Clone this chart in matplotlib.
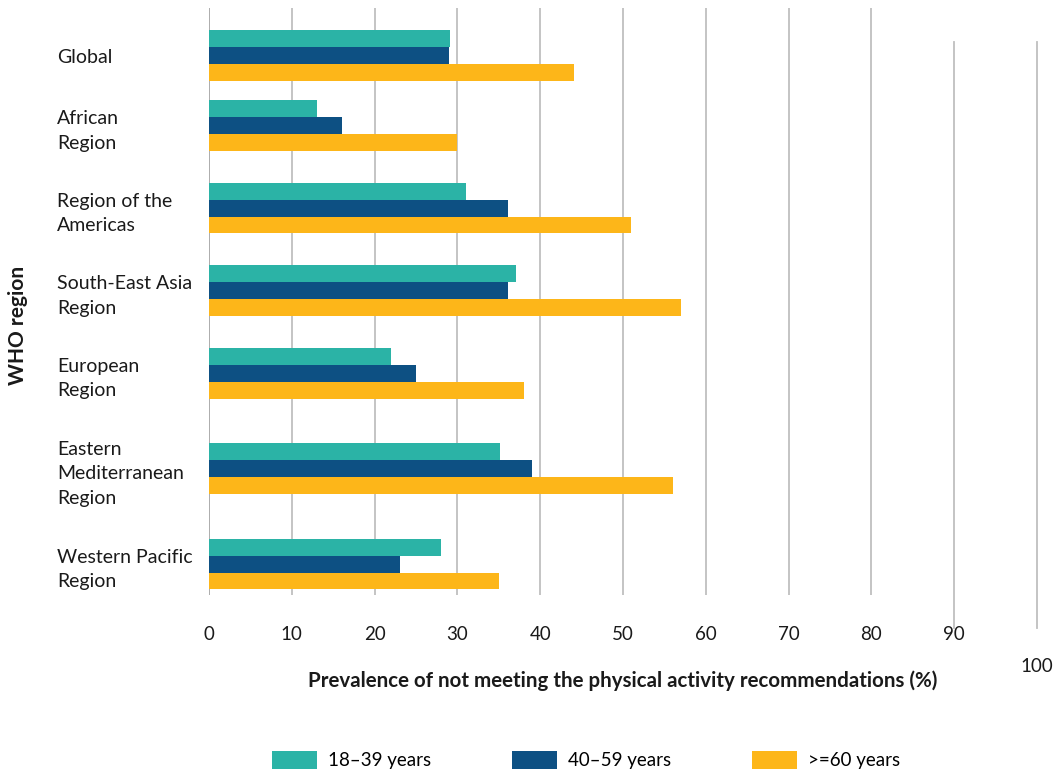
import matplotlib
matplotlib.use("Agg")
import matplotlib.pyplot as plt
import matplotlib.transforms as mtransforms
from matplotlib.patches import Patch
import numpy as np

plt.rcParams['font.family'] = ['Lato', 'DejaVu Sans']

regions = ["Global", "African\nRegion", "Region of the\nAmericas", "South-East Asia\nRegion",
           "European\nRegion", "Eastern\nMediterranean\nRegion", "Western Pacific\nRegion"]
series_names = ["18\u201339 years", "40\u201359 years", ">=60 years"]
age_18_39 = [29.1, 13.0, 31.0, 37.1, 22.0, 35.1, 28.0]
age_40_59 = [29.0, 16.1, 36.1, 36.1, 25.0, 39.0, 23.1]
age_60_plus = [44.1, 30.0, 51.0, 57.0, 38.0, 56.0, 35.0]
xticks = [0, 10, 20, 30, 40, 50, 60, 70, 80, 90, 100]

colors = ["#2BB3A6", "#0D5083", "#FDB619"]

fig = plt.figure(figsize=(10.64, 7.71), dpi=100)
ax = fig.add_axes([209/1064, 1-595/771, (1037-209)/1064, (595-8)/771])

# category positions: spacing grows with the number of label lines
nlines = [r.count("\n") + 1 for r in regions]
pos = [0.0]
for i in range(1, len(regions)):
    pos.append(pos[-1] + 1.2 + (nlines[i-1] + nlines[i]) / 2)
pos = np.array(pos)

h = 0.657
for k, (vals, c) in enumerate(zip([age_18_39, age_40_59, age_60_plus], colors)):
    ax.barh(pos + (k - 1) * h, vals, height=h, color=c, zorder=3)

ax.set_xlim(0, 100)
ax.set_ylim(pos[-1] + 1.2, -1.855)

# gridlines
for x in xticks:
    if x == 0:
        ax.axvline(x, color="#a6a6a6", lw=1.3, zorder=1)
    elif x >= 90:
        ax.axvline(x, ymin=-0.056, ymax=0.942, color="#bfbfbf", lw=1.3, zorder=1, clip_on=False)
    else:
        ax.axvline(x, color="#bfbfbf", lw=1.3, zorder=1)

for s in ax.spines.values():
    s.set_visible(False)

ax.set_xticks(xticks)
ax.set_xticklabels([str(x) if x < 100 else "" for x in xticks], fontsize=13.5, color="#1a1a1a")
ax.tick_params(axis='x', length=0, pad=22)
trans = mtransforms.blended_transform_factory(ax.transData, ax.transAxes)
ax.text(xticks[-1], -(666-595)/587, str(xticks[-1]), transform=trans, ha="center", va="center",
        fontsize=13.5, color="#1a1a1a")

ax.set_yticks(pos)
ax.set_yticklabels(regions, fontsize=14, color="#1a1a1a", ha="left", multialignment="left",
                   linespacing=1.55)
ax.tick_params(axis='y', length=0, pad=152*0.72)

ax.set_xlabel("Prevalence of not meeting the physical activity recommendations (%)",
              fontsize=14.8, fontweight="bold", color="#1a1a1a", labelpad=20)
fig.text(18/1064, 1-325/771, "WHO region", rotation=90, ha="center", va="center",
         fontsize=15, fontweight="bold", color="#1a1a1a")

handles = [Patch(facecolor=c, edgecolor="none") for c in colors]
fig.legend(handles, series_names, loc="center", bbox_to_anchor=(586/1064, 1-760/771),
           ncol=3, frameon=False, fontsize=13.5, handlelength=2.4, handleheight=1.1,
           handletextpad=0.6, columnspacing=4.3, borderpad=0)

fig.savefig("out.png", dpi=100)
